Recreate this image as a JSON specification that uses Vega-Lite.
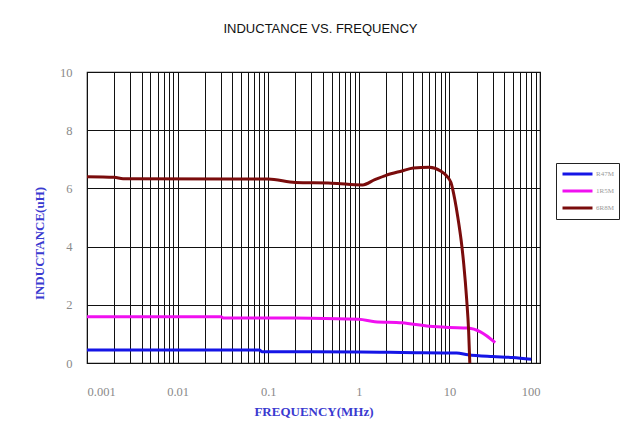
{
  "$schema": "https://vega.github.io/schema/vega-lite/v6.json",
  "width": 453,
  "height": 291,
  "autosize": "none",
  "padding": {"left": 87, "top": 72, "right": 99, "bottom": 65},
  "background": "white",
  "title": {
    "text": "INDUCTANCE VS. FREQUENCY",
    "font": "Liberation Sans",
    "fontSize": 13,
    "fontWeight": "normal",
    "color": "#111111",
    "anchor": "middle",
    "offset": 30,
    "dx": 7
  },
  "config": {
    "view": {"stroke": "#111111", "strokeWidth": 1.2},
    "axis": {
      "gridColor": "#111111",
      "gridOpacity": 1,
      "gridWidth": 1,
      "domain": false,
      "ticks": false,
      "labelFont": "Liberation Serif",
      "labelFontSize": 12.5,
      "labelColor": "#8a8a8a",
      "titleFont": "Liberation Serif",
      "titleFontSize": 13,
      "titleFontWeight": "bold",
      "titleColor": "#3a3ad0"
    }
  },
  "data": {
    "values": [
      {"f": 0.001, "L": 0.45, "s": "R47M"},
      {"f": 0.08, "L": 0.45, "s": "R47M"},
      {"f": 0.085, "L": 0.39, "s": "R47M"},
      {"f": 1, "L": 0.38, "s": "R47M"},
      {"f": 1.7, "L": 0.37, "s": "R47M"},
      {"f": 3, "L": 0.36, "s": "R47M"},
      {"f": 12, "L": 0.34, "s": "R47M"},
      {"f": 16, "L": 0.28, "s": "R47M"},
      {"f": 30, "L": 0.22, "s": "R47M"},
      {"f": 50, "L": 0.19, "s": "R47M"},
      {"f": 80, "L": 0.13, "s": "R47M"},
      {"f": 0.001, "L": 1.59, "s": "1R5M"},
      {"f": 0.03, "L": 1.59, "s": "1R5M"},
      {"f": 0.032, "L": 1.55, "s": "1R5M"},
      {"f": 0.3, "L": 1.54, "s": "1R5M"},
      {"f": 1, "L": 1.5, "s": "1R5M"},
      {"f": 1.5, "L": 1.42, "s": "1R5M"},
      {"f": 3, "L": 1.38, "s": "1R5M"},
      {"f": 6, "L": 1.26, "s": "1R5M"},
      {"f": 10, "L": 1.22, "s": "1R5M"},
      {"f": 16, "L": 1.2, "s": "1R5M"},
      {"f": 22, "L": 1.07, "s": "1R5M"},
      {"f": 32, "L": 0.7, "s": "1R5M"},
      {"f": 0.001, "L": 6.4, "s": "6R8M"},
      {"f": 0.002, "L": 6.38, "s": "6R8M"},
      {"f": 0.0025, "L": 6.33, "s": "6R8M"},
      {"f": 0.1, "L": 6.32, "s": "6R8M"},
      {"f": 0.2, "L": 6.2, "s": "6R8M"},
      {"f": 0.5, "L": 6.18, "s": "6R8M"},
      {"f": 1.1, "L": 6.12, "s": "6R8M"},
      {"f": 1.5, "L": 6.3, "s": "6R8M"},
      {"f": 2, "L": 6.45, "s": "6R8M"},
      {"f": 3, "L": 6.6, "s": "6R8M"},
      {"f": 4, "L": 6.7, "s": "6R8M"},
      {"f": 6, "L": 6.73, "s": "6R8M"},
      {"f": 8, "L": 6.6, "s": "6R8M"},
      {"f": 9.5, "L": 6.4, "s": "6R8M"},
      {"f": 10.4, "L": 6.2, "s": "6R8M"},
      {"f": 11.5, "L": 5.6, "s": "6R8M"},
      {"f": 12.4, "L": 5.0, "s": "6R8M"},
      {"f": 13.5, "L": 4.2, "s": "6R8M"},
      {"f": 14.4, "L": 3.4, "s": "6R8M"},
      {"f": 15.5, "L": 2.2, "s": "6R8M"},
      {"f": 16.3, "L": 1.1, "s": "6R8M"},
      {"f": 16.8, "L": 0, "s": "6R8M"}
    ]
  },
  "mark": {"type": "line", "strokeWidth": 3, "interpolate": "monotone", "clip": true},
  "encoding": {
    "x": {
      "field": "f",
      "type": "quantitative",
      "scale": {"type": "log", "domain": [0.001, 100], "nice": false},
      "axis": {
        "title": "FREQUENCY(MHz)",
        "titleFontWeight": "bold",
        "titlePadding": 8,
        "labelPadding": 22,
        "values": [0.001,0.002,0.003,0.004,0.005,0.006,0.007,0.008,0.009,0.01,0.02,0.03,0.04,0.05,0.06,0.07,0.08,0.09,0.1,0.2,0.3,0.4,0.5,0.6,0.7,0.8,0.9,1,2,3,4,5,6,7,8,9,10,20,30,40,50,60,70,80,90,100],
        "labelExpr": "indexof([0.001,0.01,0.1,1,10,100], datum.value) >= 0 ? datum.label : ''",
        "format": "~g"
      }
    },
    "y": {
      "field": "L",
      "type": "quantitative",
      "scale": {"domain": [0, 10], "nice": false},
      "axis": {
        "title": "INDUCTANCE(uH)",
        "values": [0, 2, 4, 6, 8, 10],
        "labelPadding": 15,
        "titleX": -48,
        "titleY": 171,
        "titleAlign": "center",
        "titleBaseline": "middle"
      }
    },
    "color": {
      "field": "s",
      "type": "nominal",
      "sort": ["R47M", "1R5M", "6R8M"],
      "scale": {"domain": ["R47M", "1R5M", "6R8M"], "range": ["#1515e6", "#f010f0", "#7a0c0c"]},
      "legend": {
        "title": null,
        "orient": "none",
        "legendX": 469,
        "legendY": 91,
        "symbolType": "stroke",
        "symbolSize": 900,
        "symbolStrokeWidth": 3,
        "clipHeight": 12,
        "labelFontSize": 7,
        "labelColor": "#999999",
        "labelFont": "Liberation Serif",
        "strokeColor": "#222222",
        "padding": 5,
        "rowPadding": 5,
        "labelOffset": 2
      }
    }
  }
}
